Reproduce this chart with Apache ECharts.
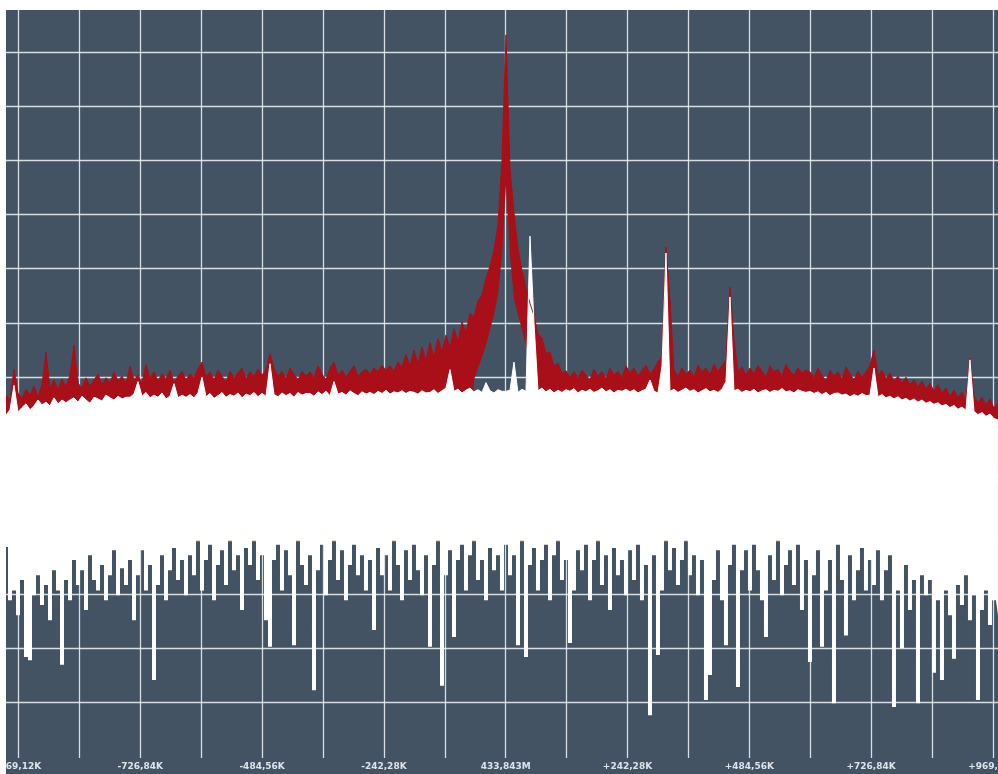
<!DOCTYPE html>
<html>
<head>
<meta charset="utf-8">
<script src="https://cdn.jsdelivr.net/npm/echarts@6/dist/echarts.min.js"></script>
<style>
html,body{margin:0;padding:0;background:#fff;overflow:hidden;}
#c{width:998px;height:774px;}
</style>
</head>
<body>
<div id="c"></div>
<script>
// Frequency axis (kHz offset from 433,843 MHz)
const fStart = -994.0;
const fStep = 7.9566;
const fMin = -994.0;
const fMax = 979.3;
const gridOffsetsK = [-969.12,-847.98,-726.84,-605.70,-484.56,-363.42,-242.28,-121.14,0,121.14,242.28,363.42,484.56,605.70,726.84,847.98,969.12];
const labelOffsetsK = [-969.12,-726.84,-484.56,-242.28,0,242.28,484.56,726.84,969.12];
const tickLabels = ['-969,12K','-726,84K','-484,56K','-242,28K','433,843M','+242,28K','+484,56K','+726,84K','+969,12K'];
const levelLines = [-10,-20,-30,-40,-50,-60,-70,-80,-90,-100,-110,-120,-130];

// Peak-hold trace (red), dB
const redTop = [
-73.3,-74.2,-68.5,-72.9,-74.0,-72.2,-73.3,-71.6,-73.6,-71.4,-65.4,-72.0,-70.5,-72.4,-70.3,-71.8,
-69.6,-64.1,-71.1,-72.0,-70.1,-71.7,-70.5,-69.4,-71.4,-70.1,-71.1,-69.0,-70.7,-69.8,-71.2,
-68.0,-70.5,-69.6,-71.1,-67.6,-70.1,-69.0,-70.7,-69.4,-70.3,-68.7,-70.9,-69.8,-68.9,-70.5,
-69.4,-70.1,-68.5,-67.2,-69.9,-69.0,-70.5,-68.7,-69.8,-70.9,-68.9,-70.1,-69.2,-68.3,-70.3,
-69.0,-69.9,-68.5,-69.6,-68.7,-65.6,-68.3,-69.8,-68.9,-70.3,-68.3,-69.4,-70.5,-68.9,-69.8,
-69.0,-70.1,-67.9,-69.4,-70.5,-68.3,-67.2,-69.6,-68.7,-70.0,-68.9,-67.9,-69.8,-69.0,-68.5,
-69.4,-68.3,-69.0,-67.8,-68.7,-67.9,-68.9,-67.2,-68.1,-65.8,-68.0,-65.0,-67.6,-64.4,-66.9,
-63.6,-66.3,-62.8,-65.4,-62.2,-64.6,-61.0,-63.5,-59.8,-61.8,-58.2,-58.9,-55.9,-54.8,-51.8,-49.5,-46.6,-42.0,-30.0,-6.9,
-31.5,-39.6,-46.3,-50.3,-53.6,-56.4,-58.6,-62.0,-62.8,-65.6,-65.4,-67.9,-67.4,-69.3,-68.8,
-70.0,-69.0,-70.1,-68.7,-69.6,-70.5,-68.5,-69.8,-69.0,-70.3,-68.3,-69.6,-68.9,-70.1,-67.9,
-69.2,-68.3,-69.8,-68.7,-67.8,-69.4,-68.5,-67.2,-65.9,-46.0,-55.8,-68.7,-69.8,-68.3,-69.4,
-68.7,-70.0,-67.8,-69.0,-68.3,-69.6,-67.6,-68.9,-67.9,-66.8,-53.4,-63.2,-69.0,-68.1,-69.6,
-68.3,-69.4,-67.8,-68.9,-70.0,-67.9,-69.0,-68.5,-69.8,-67.6,-68.9,-69.6,-68.3,-69.2,-68.7,
-69.0,-70.1,-68.3,-69.6,-70.7,-68.7,-69.8,-69.0,-70.3,-68.1,-69.4,-70.5,-68.9,-70.0,-69.0,
-67.8,-65.0,-69.6,-68.7,-70.3,-69.2,-70.7,-69.8,-71.1,-70.0,-71.4,-70.5,-71.8,-70.7,-72.2,
-71.1,-72.6,-71.4,-72.9,-72.0,-73.5,-72.4,-73.8,-72.7,-74.2,-66.5,-73.3,-74.8,-73.7,-75.1,-74.0,-75.7,-74.8
];

// Lower edge of the red band: hidden inside the white band, except around the carrier (indices 117..133), dB
const redFloorDefault = -90;
const redFloorStart = 117;
const redFloorCenter = [-70.5,-68.3,-66.3,-64.1,-61.3,-58.5,-54.9,-47.5,-34.6,-47.5,-55.5,-58.5,-61.3,-64.1,-66.3,-68.3,-70.5];

// Live trace upper edge (white), dB
const whiteTop = [
-77.0,-76.0,-71.5,-76.4,-75.6,-74.9,-76.0,-75.3,-74.2,-75.1,-74.6,-75.3,-73.8,-74.9,-74.2,-74.7,
-74.2,-73.8,-74.6,-73.5,-74.2,-74.8,-73.7,-74.0,-74.4,-73.3,-73.8,-74.2,-73.5,-74.0,-73.7,
-73.7,-73.1,-70.8,-73.5,-72.8,-73.8,-73.3,-73.7,-72.9,-74.0,-73.5,-71.2,-73.8,-73.3,-73.7,
-73.2,-73.8,-72.9,-70.0,-73.6,-73.0,-73.9,-73.4,-72.8,-73.7,-73.2,-73.5,-72.9,-73.8,-73.1,
-73.4,-72.8,-73.6,-73.0,-73.5,-67.5,-73.2,-73.6,-72.9,-73.4,-73.0,-73.7,-72.8,-73.3,-73.0,
-73.0,-73.5,-72.7,-73.2,-72.6,-73.4,-70.8,-73.1,-72.8,-73.3,-72.5,-73.0,-73.4,-72.7,-73.1,
-72.8,-73.2,-72.6,-73.0,-72.4,-73.1,-72.7,-72.9,-72.5,-73.0,-72.6,-72.8,-73.1,-72.5,-72.9,
-72.8,-72.3,-73.0,-72.5,-72.0,-68.6,-72.6,-72.2,-72.9,-72.4,-72.0,-72.7,-72.3,-72.8,-71.0,-72.5,-72.9,-72.3,-72.6,-72.6,
-72.4,-67.2,-72.8,-72.2,-72.6,-44.0,-60.0,-72.5,-72.0,-72.7,-72.2,-72.9,-72.4,-72.8,-72.3,
-72.6,-72.1,-72.9,-72.4,-72.7,-72.2,-72.8,-72.5,-72.0,-72.7,-72.3,-72.9,-72.4,-72.6,-72.2,
-72.7,-72.3,-72.9,-72.5,-72.2,-70.5,-72.6,-72.9,-68.0,-47.1,-72.6,-72.2,-72.8,-72.4,-72.0,
-72.6,-72.3,-72.9,-72.5,-72.1,-72.7,-72.4,-72.8,-72.2,-70.8,-55.2,-72.5,-72.2,-72.8,-72.4,
-72.7,-72.2,-72.9,-72.5,-72.3,-72.8,-72.4,-72.6,-72.1,-72.7,-72.5,-72.9,-72.3,-72.6,-72.8,
-72.6,-73.0,-72.7,-73.2,-72.8,-73.4,-73.0,-72.9,-73.3,-73.1,-73.6,-73.2,-73.5,-73.0,-73.4,
-73.3,-68.3,-73.6,-73.2,-73.8,-73.5,-74.0,-73.6,-74.2,-73.9,-74.4,-74.0,-74.6,-74.2,-74.8,
-74.5,-75.0,-74.7,-75.3,-75.0,-75.6,-75.2,-75.9,-75.5,-76.1,-66.8,-76.3,-76.9,-76.5,-77.2,-76.8,-77.6,-77.9
];

// Live trace lower edge (white), dB
const whiteLow = [
-101.3,-111.1,-109.3,-113.9,-107.4,-121.6,-122.2,-110.2,-106.5,-112.0,-108.3,-114.8,-105.6,-109.3,-123.0,-107.4,
-111.1,-103.7,-108.3,-105.6,-112.9,-102.8,-107.4,-109.3,-104.6,-111.1,-106.5,-101.9,-110.2,-105.2,-108.3,
-103.7,-114.8,-106.5,-101.9,-109.3,-104.6,-125.8,-108.3,-102.8,-111.1,-105.6,-101.5,-107.4,-103.7,-110.2,
-102.8,-106.5,-100.0,-109.3,-103.7,-100.9,-111.1,-104.6,-101.9,-108.3,-100.0,-105.6,-102.8,-112.9,-101.5,
-104.6,-100.0,-107.4,-102.8,-114.8,-119.7,-103.7,-100.9,-109.3,-101.9,-106.5,-119.4,-100.0,-104.6,-108.3,
-102.8,-127.7,-105.6,-100.9,-110.2,-103.7,-100.0,-107.4,-101.9,-111.1,-104.6,-100.9,-106.5,-102.8,-109.3,
-103.7,-116.6,-101.5,-106.5,-102.8,-109.3,-100.0,-104.6,-111.1,-101.9,-107.4,-100.9,-105.6,-110.2,-102.8,
-119.7,-104.6,-100.0,-126.9,-106.5,-101.9,-117.9,-103.7,-100.9,-109.3,-102.8,-100.0,-107.4,-103.7,-111.1,-101.5,-105.6,-102.8,-109.3,-100.9,
-106.5,-102.8,-119.4,-100.0,-121.6,-104.6,-101.5,-109.3,-103.7,-100.9,-111.1,-102.8,-100.0,-107.4,-103.7,
-119.0,-109.3,-101.9,-105.6,-100.9,-111.1,-103.7,-100.0,-108.3,-102.8,-112.9,-101.5,-106.5,-103.7,-110.2,
-101.9,-107.4,-100.9,-111.1,-104.6,-132.3,-102.8,-121.2,-109.3,-100.0,-105.6,-101.5,-108.3,-103.7,-100.0,
-106.5,-102.8,-110.2,-103.7,-129.5,-124.9,-107.4,-101.9,-111.1,-119.4,-104.6,-100.9,-127.1,-105.6,-101.9,
-109.3,-100.9,-105.6,-111.1,-117.9,-102.8,-107.4,-100.0,-110.2,-104.6,-101.9,-108.3,-100.9,-112.9,-103.7,
-122.5,-106.5,-101.9,-119.7,-109.3,-103.7,-130.1,-100.9,-107.4,-117.6,-102.8,-111.1,-105.6,-101.5,-109.3,
-103.7,-108.3,-101.9,-111.1,-105.6,-102.8,-130.8,-109.3,-119.9,-104.6,-112.9,-107.4,-130.1,-106.5,-110.2,
-107.4,-124.5,-111.1,-125.8,-109.3,-113.9,-121.9,-108.3,-112.0,-106.5,-114.8,-110.2,-129.5,-112.9,-109.3,-115.7,-111.1,-113.9
];

// Level where the stepped lower part and the smooth upper part of the white band meet (they overlap slightly)
const whiteSplitLow = -90;
const whiteSplitHigh = -88;

if (redTop.length !== 249 || whiteTop.length !== 249 || whiteLow.length !== 249) {
  throw new Error('length mismatch ' + redTop.length + ' ' + whiteTop.length + ' ' + whiteLow.length);
}

const freq = redTop.map((_, i) => +(fStart + i * fStep).toFixed(4));
const redFloor = redTop.map((v, i) =>
  (i >= redFloorStart && i < redFloorStart + redFloorCenter.length) ? redFloorCenter[i - redFloorStart] : redFloorDefault);

const bg = '#435363';
const gridColor = 'rgba(232,237,242,0.9)';
const red = '#a80f19';

// level first, frequency second, so that stacking applies to the level dimension
const enc = {x: 1, y: 0};
function pairs(vals) { return freq.map((f, i) => [+vals[i].toFixed(2), f]); }
const hidden = {width: 0, opacity: 0};

const chart = echarts.init(document.getElementById('c'), null, {renderer: 'canvas'});
chart.setOption({
  animation: false,
  backgroundColor: bg,
  grid: {left: 6, right: 0, top: 10, bottom: 16, containLabel: false, outerBoundsMode: 'none'},
  xAxis: {
    type: 'value', min: fMin, max: fMax,
    axisLine: {show: false},
    axisTick: {show: false, customValues: gridOffsetsK},
    splitLine: {show: true, lineStyle: {color: gridColor, width: 1.3}},
    axisLabel: {
      customValues: labelOffsetsK,
      formatter: function (v) {
        let best = 0;
        for (let k = 0; k < labelOffsetsK.length; k++) {
          if (Math.abs(labelOffsetsK[k] - v) < Math.abs(labelOffsetsK[best] - v)) best = k;
        }
        return tickLabels[best];
      },
      color: '#dfe4e9', fontFamily: 'DejaVu Sans', fontWeight: 'bold', fontSize: 9, margin: 4
    }
  },
  yAxis: {
    type: 'value', min: -140.2, max: -2.3,
    axisLine: {show: false},
    axisTick: {show: false, customValues: levelLines},
    axisLabel: {show: false},
    splitLine: {show: true, lineStyle: {color: gridColor, width: 1.3}}
  },
  graphic: [
    {type: 'rect', left: 0, top: 0, shape: {width: 998, height: 10}, style: {fill: '#ffffff'}, z: 100},
    {type: 'rect', left: 0, top: 0, shape: {width: 6, height: 774}, style: {fill: '#ffffff'}, z: 100}
  ],
  series: [
    {
      name: 'redBase', type: 'line', stack: 'r', stackStrategy: 'all', encode: enc, showSymbol: false, silent: true,
      lineStyle: hidden, data: pairs(redFloor)
    },
    {
      name: 'peak', type: 'line', stack: 'r', stackStrategy: 'all', encode: enc, showSymbol: false, silent: true,
      lineStyle: {width: 1, color: red}, areaStyle: {color: red, opacity: 1},
      data: pairs(redTop.map((v, i) => v - redFloor[i]))
    },
    {
      name: 'liveLowBase', type: 'line', stack: 'wl', stackStrategy: 'all', encode: enc, showSymbol: false, silent: true,
      step: 'middle', lineStyle: hidden, data: pairs(whiteLow)
    },
    {
      name: 'liveLow', type: 'line', stack: 'wl', stackStrategy: 'all', encode: enc, showSymbol: false, silent: true,
      step: 'middle', lineStyle: hidden, areaStyle: {color: '#ffffff', opacity: 1},
      data: pairs(whiteLow.map(v => whiteSplitHigh - v))
    },
    {
      name: 'liveHighBase', type: 'line', stack: 'wh', stackStrategy: 'all', encode: enc, showSymbol: false, silent: true,
      lineStyle: hidden, data: pairs(whiteTop.map(() => whiteSplitLow))
    },
    {
      name: 'live', type: 'line', stack: 'wh', stackStrategy: 'all', encode: enc, showSymbol: false, silent: true,
      lineStyle: {width: 1, color: '#ffffff'}, areaStyle: {color: '#ffffff', opacity: 1},
      data: pairs(whiteTop.map(v => v - whiteSplitLow))
    }
  ]
});
</script>
</body>
</html>
